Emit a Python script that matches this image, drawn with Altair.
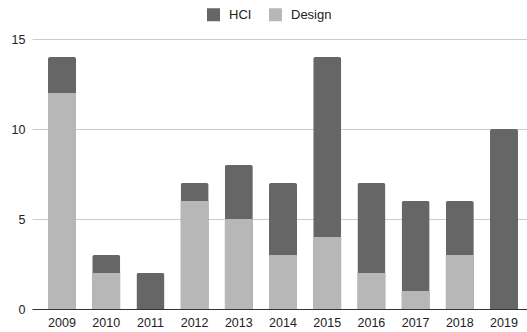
import altair as alt
import pandas as pd

# Publications per year, split by venue type
years = ["2009", "2010", "2011", "2012", "2013", "2014", "2015", "2016", "2017", "2018", "2019"]
hci = [2, 1, 2, 1, 3, 4, 10, 5, 5, 3, 10]
design = [12, 2, 0, 6, 5, 3, 4, 2, 1, 3, 0]

series = ["HCI", "Design"]
colors = ["#666666", "#b7b7b7"]
y_ticks = [0, 5, 10, 15]

df = pd.DataFrame({"year": years, "hci": hci, "design": design})

FONT = "Liberation Sans"

x_enc = alt.X(
    "year:N",
    sort=years,
    title=None,
    scale=alt.Scale(paddingInner=0.366, paddingOuter=0.283, align=0.64),
    axis=alt.Axis(
        labelAngle=0,
        ticks=False,
        grid=False,
        domainColor="#333333",
        labelPadding=7,
        labelFontSize=12.5,
        labelColor="#222222",
        labelFont=FONT,
    ),
)

y_scale = alt.Scale(domain=[0, 15], nice=False)
y_axis = alt.Axis(
    values=y_ticks,
    title=None,
    ticks=False,
    domain=False,
    gridColor="#cccccc",
    labelPadding=7,
    labelFontSize=12.5,
    labelColor="#222222",
    labelFont=FONT,
)

color_scale = alt.Scale(domain=series, range=colors)
legend = alt.Legend(
    title=None,
    orient="none",
    legendX=175,
    legendY=-31,
    direction="horizontal",
    symbolType="square",
    symbolSize=169,
    symbolStrokeWidth=0,
    labelFontSize=13,
    labelFont=FONT,
    labelColor="#222222",
    labelOffset=9,
    columnPadding=17,
)
color_enc = alt.Color("series:N", scale=color_scale, legend=legend, sort=series)

base = alt.Chart(df).transform_calculate(total="datum.hci + datum.design")

# Full stack height (HCI on top of Design), rounded at the top
hci_bars = (
    base.transform_calculate(series="'HCI'")
    .mark_bar(cornerRadiusTopLeft=2, cornerRadiusTopRight=2)
    .encode(
        x=x_enc,
        y=alt.Y("total:Q", scale=y_scale, axis=y_axis),
        color=color_enc,
    )
)

# Design share drawn at the bottom of each stack
design_bars = (
    base.transform_calculate(series="'Design'")
    .mark_bar()
    .encode(
        x=x_enc,
        y=alt.Y("design:Q", scale=y_scale, axis=y_axis),
        color=color_enc,
    )
)

chart = (
    alt.layer(hci_bars, design_bars)
    .properties(
        width=495,
        height=270,
        background="white",
        autosize=alt.AutoSizeParams(type="none"),
        padding={"left": 32, "top": 39, "right": 0, "bottom": 23},
    )
    .configure_view(stroke=None, strokeWidth=0)
)

chart.save("out.html", embed_options={"renderer": "svg", "actions": False})
